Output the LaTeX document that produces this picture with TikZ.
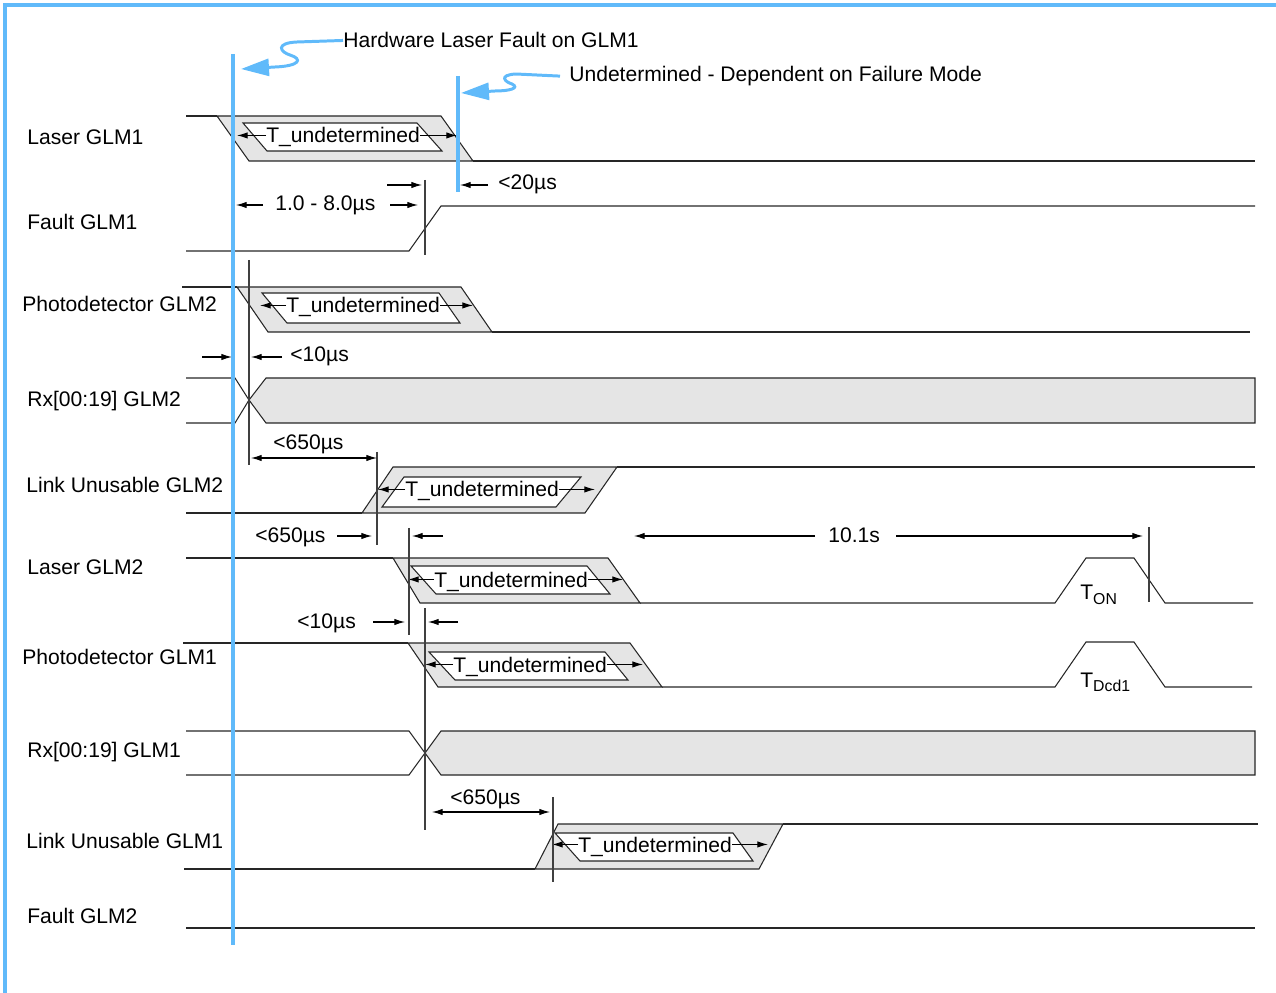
\documentclass[tikz,border=0pt]{standalone}
\usepackage{fontspec}
\setmainfont{Liberation Sans}
\usepackage{tikz}
\usetikzlibrary{arrows.meta}
\definecolor{markblue}{RGB}{96,186,250}
\definecolor{boxgray}{RGB}{229,229,229}
\newcommand{\subtxt}[1]{\raisebox{-2.5pt}{\fontsize{9}{10}\selectfont #1}}

\begin{document}
\begin{tikzpicture}[x=0.02cm, y=-0.02cm,
   every node/.style={font=\fontsize{12}{14}\selectfont, inner sep=0pt, anchor=base west},
   wave/.style={draw=black!85, line width=0.6pt},
   tdbox/.style={wave, fill=boxgray},
   tdtext/.style={text height=8.6pt, text depth=0pt, anchor=base west},
   dim/.style={line width=0.6pt, -{Latex[length=6pt,width=3.6pt]}},
   dimboth/.style={line width=0.6pt, {Latex[length=6pt,width=3.6pt]}-{Latex[length=6pt,width=3.6pt]}},
   marker/.style={draw=black!75, line width=0.6pt},
   faultline/.style={draw=markblue, line width=2.1pt},
   callout/.style={draw=markblue, line width=1.7pt, -{Triangle[length=0.56cm,width=0.34cm]}}
]
   \useasboundingbox (0,0) rectangle (1276,993);
   \draw[faultline] (5,993) -- (5,5) -- (1276,5);

   \foreach \x/\y/\nm/\txt in {27/145/lbLaserA/Laser GLM1, 27/230/lbFaultA/Fault GLM1,
         22/312/lbPdB/Photodetector GLM2, 27/407/lbRxB/Rx[00:19] GLM2,
         26/493/lbLinkB/Link Unusable GLM2, 27/575/lbLaserB/Laser GLM2,
         22/664/lbPdA/Photodetector GLM1, 27/757/lbRxA/Rx[00:19] GLM1,
         26/848/lbLinkA/Link Unusable GLM1, 27/923/lbFaultB/Fault GLM2}
      \node (\nm) at (\x,\y) {\txt};

   % Laser GLM1
   \draw[wave] (186,116) -- (217,116);
   \filldraw[tdbox] (217,116) -- (441,116) -- (473,161) -- (249,161) -- cycle;
   \filldraw[wave, fill=white] (243,123) -- (417,123) -- (442,151) -- (267,151) -- cycle;
   \draw[wave] (473,161) -- (1255,161);

   % Fault GLM1
   \draw[wave] (186,251) -- (409,251) -- (441,206) -- (1255,206);

   % Photodetector GLM2
   \draw[wave] (182,287) -- (237,287);
   \filldraw[tdbox] (237,287) -- (461,287) -- (492,332) -- (268,332) -- cycle;
   \filldraw[wave, fill=white] (262,293) -- (439,293) -- (460,323) -- (287,323) -- cycle;
   \draw[wave] (492,332) -- (1250,332);

   % Rx GLM2
   \filldraw[tdbox] (249,400) -- (266,378) -- (1255,378) -- (1255,423) -- (266,423) -- cycle;
   \draw[wave] (186,378) -- (235,378) -- (249,400) -- (235,423) -- (186,423);

   % Link Unusable GLM2
   \draw[wave] (186,513) -- (362,513);
   \filldraw[tdbox] (362,513) -- (393,467) -- (617,467) -- (585,513) -- cycle;
   \filldraw[wave, fill=white] (382,507) -- (404,477) -- (581,477) -- (556,507) -- cycle;
   \draw[wave] (617,467) -- (1255,467);

   % Laser GLM2
   \draw[wave] (186,558) -- (393,558);
   \filldraw[tdbox] (393,558) -- (608,558) -- (640,603) -- (420,603) -- cycle;
   \filldraw[wave, fill=white] (411,566) -- (587,566) -- (610,594) -- (436,594) -- cycle;
   \draw[wave] (640,603) -- (1055,603) -- (1086,558) -- (1134,558) -- (1165,603) -- (1253,603);

   % Photodetector GLM1
   \draw[wave] (183,643) -- (408,643);
   \filldraw[tdbox] (408,643) -- (630,643) -- (662,687) -- (438,687) -- cycle;
   \filldraw[wave, fill=white] (429,652) -- (605,652) -- (628,680) -- (455,680) -- cycle;
   \draw[wave] (662,687) -- (1055,687) -- (1086,642) -- (1134,642) -- (1165,687) -- (1252,687);

   % Rx GLM1
   \filldraw[tdbox] (425,753) -- (441,731) -- (1255,731) -- (1255,775) -- (441,775) -- cycle;
   \draw[wave] (186,731) -- (409,731) -- (425,753) -- (409,775) -- (186,775);

   % Link Unusable GLM1
   \draw[wave] (184,869) -- (535,869);
   \filldraw[tdbox] (535,869) -- (558,824) -- (783,824) -- (759,869) -- cycle;
   \filldraw[wave, fill=white] (555,833) -- (733,833) -- (753,861) -- (580,861) -- cycle;
   \draw[wave] (783,824) -- (1258,824);

   % Fault GLM2
   \draw[wave] (186,928) -- (1255,928);

   \foreach \n/\tx/\ty/\la/\ra in {1/266/143/237/457, 2/286/313/260/473, 3/405/497/378/595,
         4/434/587/408/623, 5/453/672/425/643, 6/578/852/552/768} {
      \node[tdtext] (tu\n) at (\tx,\ty) {T\_undetermined};
      \coordinate (tuL\n) at (\la,0);
      \coordinate (tuR\n) at (\ra,0);
      \draw[dim] (tu\n.west) -- (tu\n.west -| tuL\n);
      \draw[dim] (tu\n.east) -- (tu\n.east -| tuR\n);
   }

   \foreach \x/\ya/\yb in {425/180/255, 249/260/465, 377/452/545, 409/528/635,
         1149/527/602, 425/608/830, 553/797/882}
      \draw[marker] (\x,\ya) -- (\x,\yb);

   \node (d20) at (498,190) {<20µs};
   \node (d18) at (275,211) {1.0 - 8.0µs};
   \node (d10a) at (290,362) {<10µs};
   \node (d650a) at (273,450) {<650µs};
   \node (d650b) at (255,542) {<650µs};
   \node (d101) at (828,542) {10.1s};
   \node (d10b) at (297,628) {<10µs};
   \node (d650c) at (450,804) {<650µs};
   \node (ton) at (1080,600) {T\subtxt{ON}};
   \node (tdcd) at (1080,687) {T\subtxt{Dcd1}};

   \draw[dim] (263,205) -- (236,205);
   \draw[dim] (390,205) -- (418,205);
   \draw[dim] (387,185) -- (422,185);
   \draw[dim] (488,185) -- (460,185);
   \draw[dim] (202,357) -- (232,357);
   \draw[dim] (282,357) -- (251,357);
   \draw[dimboth] (251,458) -- (377,458);
   \draw[dim] (337,536) -- (372,536);
   \draw[dim] (443,536) -- (412,536);
   \draw[dim] (815,536) -- (634,536);
   \draw[dim] (896,536) -- (1143,536);
   \draw[dim] (373,622) -- (405,622);
   \draw[dim] (458,622) -- (428,622);
   \draw[dimboth] (432,812) -- (550,812);

   \draw[faultline] (233,54) -- (233,945);
   \draw[faultline] (458,76) -- (458,192);

   \node (hw) at (343,48) {Hardware Laser Fault on GLM1};
   \node (undet) at (569,82) {Undetermined - Dependent on Failure Mode};
   \coordinate (hwtip) at (241,69);
   \coordinate (undettip) at (461,93);
   \draw[callout] (hw.west) -- (297,42) .. controls (275,43) and (280,52) .. (290,55)
      .. controls (303,59) and (300,66) .. (275,67) -- (hwtip);
   \draw[callout, shorten <=0.18cm] (undet.west) -- (516,74) .. controls (498,75) and (505,82) .. (512,84)
      .. controls (520,88) and (510,91) .. (495,91) -- (undettip);
\end{tikzpicture}
\end{document}
